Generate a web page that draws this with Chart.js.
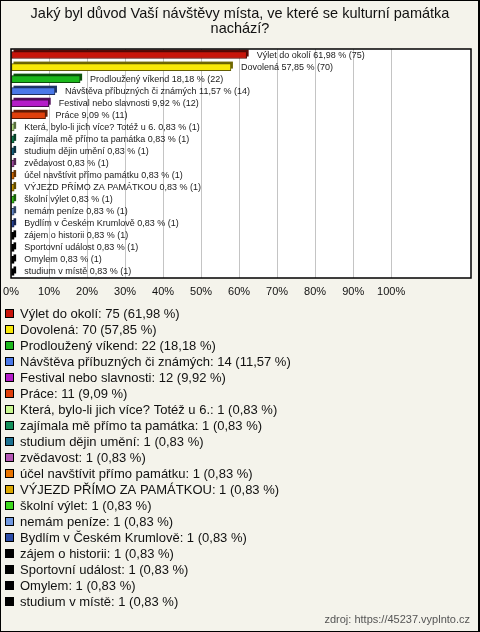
<!DOCTYPE html>
<html>
<head>
<meta charset="utf-8">
<script src="https://cdn.jsdelivr.net/npm/chart.js@4"></script>
<style>
  body { margin: 0; background: #f4f3eb; }
  canvas { display: block; }
</style>
</head>
<body>
<canvas id="myChart" width="480" height="632"></canvas>
<script>
// answers and counts (total 121 respondents)
const categories = [
  "Výlet do okolí", "Dovolená", "Prodloužený víkend", "Návštěva příbuzných či známých",
  "Festival nebo slavnosti", "Práce", "Která, bylo-li jich více? Totéž u 6.",
  "zajímala mě přímo ta památka", "studium dějin umění", "zvědavost",
  "účel navštívit přímo památku", "VÝJEZD PŘÍMO ZA PAMÁTKOU", "školní výlet",
  "nemám peníze", "Bydlím v Českém Krumlově", "zájem o historii",
  "Sportovní událost", "Omylem", "studium v místě"
];
const counts = [75, 70, 22, 14, 12, 11, 1, 1, 1, 1, 1, 1, 1, 1, 1, 1, 1, 1, 1];
const total = 121;
const tickLabels = ["0%", "10%", "20%", "30%", "40%", "50%", "60%", "70%", "80%", "90%", "100%"];
const colors = [
  "#c8140a", "#f8e808", "#1cb81c", "#4a78e8", "#b41cc8", "#e0400c", "#c8f890",
  "#14905a", "#1c7090", "#b456b4", "#e87400", "#dca800", "#3cd81c",
  "#7098e0", "#2c4ca8", "#000000", "#000000", "#000000", "#000000"
];
const title = ["Jaký byl důvod Vaší návštěvy místa, ve které se kulturní památka", "nachází?"];
const source = "zdroj: https://45237.vyplnto.cz";

const pct = categories.map((c, i) => counts[i] / total * 100);
const pctText = pct.map(p => p.toFixed(2).replace(".", ","));

function darken(hex, f) {
  let n = parseInt(hex.slice(1), 16);
  let r = Math.round(((n >> 16) & 255) * f), g = Math.round(((n >> 8) & 255) * f), b = Math.round((n & 255) * f);
  return "rgb(" + r + "," + g + "," + b + ")";
}

const FONT = "'Liberation Sans', Arial, sans-serif";

const decor = {
  id: "decor",
  beforeDraw(chart) {
    const c = chart.ctx, a = chart.chartArea;
    c.save();
    c.fillStyle = "#f4f3eb";
    c.fillRect(0, 0, chart.width, chart.height);
    c.fillStyle = "#ffffff";
    c.fillRect(a.left, a.top, a.right - a.left, a.bottom - a.top);
    c.restore();
  },
  beforeDatasetsDraw(chart) {
    // back face of the little 3D boxes
    const c = chart.ctx;
    const bars = chart.getDatasetMeta(0).data;
    c.save();
    bars.forEach((b, i) => {
      const h = b.height;
      c.fillStyle = darken(colors[i], 0.45);
      c.fillRect(b.base + 2, b.y - h / 2 - 2, b.x - b.base, h);
    });
    c.restore();
  },
  afterDatasetsDraw(chart) {
    const c = chart.ctx;
    const bars = chart.getDatasetMeta(0).data;
    c.save();
    c.font = "9px " + FONT;
    c.fillStyle = "#1a1a1a";
    c.textBaseline = "middle";
    bars.forEach((b, i) => {
      c.fillText(categories[i] + " " + pctText[i] + " % (" + counts[i] + ")", b.x + 10, b.y);
    });
    c.restore();
  },
  afterDraw(chart) {
    const c = chart.ctx, a = chart.chartArea;
    c.save();
    // plot frame
    c.strokeStyle = "#000";
    c.lineWidth = 1.5;
    c.strokeRect(a.left, a.top, a.right - a.left, a.bottom - a.top);
    // title
    c.fillStyle = "#111";
    c.font = "14.5px " + FONT;
    c.textAlign = "center";
    c.textBaseline = "middle";
    title.forEach((t, i) => c.fillText(t, 240, 14 + i * 15));
    // legend
    c.textAlign = "left";
    c.font = "13px " + FONT;
    categories.forEach((cat, i) => {
      const y = 313 + i * 16;
      c.fillStyle = colors[i];
      c.fillRect(5, y - 4, 9, 9);
      c.strokeStyle = "#000";
      c.lineWidth = 1;
      c.strokeRect(5.5, y - 3.5, 8, 8);
      c.fillStyle = "#111";
      c.fillText(cat + ": " + counts[i] + " (" + pctText[i] + " %)", 20, y + 1);
    });
    // source
    c.textAlign = "right";
    c.font = "11px " + FONT;
    c.fillStyle = "#555";
    c.fillText(source, 470, 620);
    // outer frame
    c.strokeStyle = "#000";
    c.lineWidth = 1;
    c.strokeRect(0.5, 0.5, 478, 631);
    c.fillStyle = "#000";
    c.fillRect(478, 0, 2, 632);
    c.restore();
  }
};

const ctx = document.getElementById("myChart");
new Chart(ctx, {
  type: "bar",
  data: {
    labels: categories,
    datasets: [{
      data: pct,
      backgroundColor: colors,
      borderColor: colors.map(col => darken(col, 0.4)),
      borderWidth: 1,
      borderSkipped: false,
      barThickness: 7
    }]
  },
  options: {
    indexAxis: "y",
    responsive: false,
    animation: false,
    events: [],
    layout: { padding: { left: 11, right: 9, top: 49, bottom: 330 } },
    plugins: { legend: { display: false }, tooltip: { enabled: false } },
    scales: {
      y: { display: false },
      x: {
        min: 0,
        max: 121,
        afterBuildTicks(s) {
          s.ticks = tickLabels.map((t, i) => ({ value: i * 10 }));
        },
        afterFit(s) { s.height = 24; s.paddingLeft = 0; s.paddingRight = 0; },
        grid: { color: "#c4c4c4", drawTicks: false },
        border: { display: false },
        ticks: {
          padding: 7,
          color: "#111",
          font: { family: FONT, size: 11 },
          callback: (v, i) => tickLabels[i]
        }
      }
    }
  },
  plugins: [decor]
});
</script>
</body>
</html>
